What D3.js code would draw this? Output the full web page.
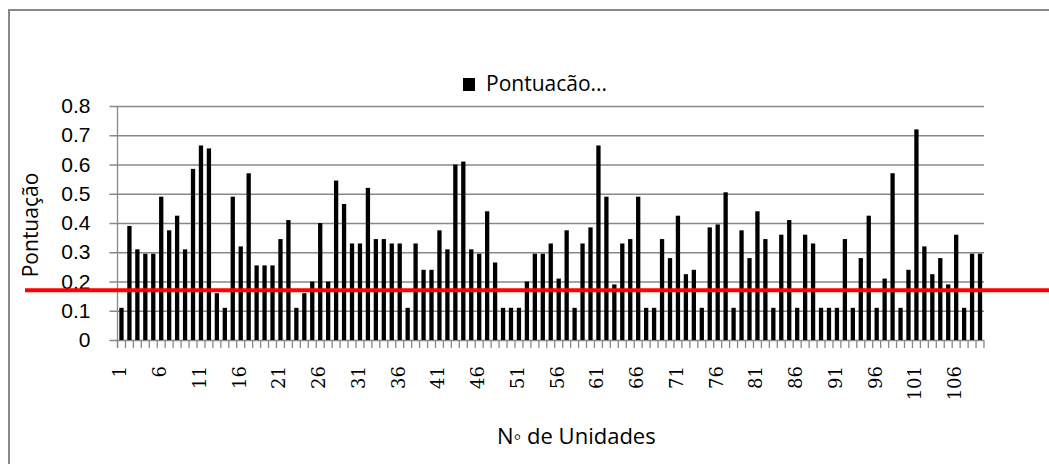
<!DOCTYPE html>
<html>
<head>
<meta charset="utf-8">
<script src="https://cdn.jsdelivr.net/npm/d3@7"></script>
<style>
  body { margin: 0; background: #fff; }
  svg { display: block; }
</style>
</head>
<body>
<div id="vis"></div>
<script>
// unidades 1..109
var units = d3.range(1, 110);
var scores = [
  0.11, 0.39, 0.31, 0.295, 0.295, 0.49, 0.375, 0.425, 0.31, 0.585,
  0.665, 0.655, 0.16, 0.11, 0.49, 0.32, 0.57, 0.255, 0.255, 0.255,
  0.345, 0.41, 0.11, 0.16, 0.2, 0.4, 0.2, 0.545, 0.465, 0.33,
  0.33, 0.52, 0.345, 0.345, 0.33, 0.33, 0.11, 0.33, 0.24, 0.24,
  0.375, 0.31, 0.6, 0.61, 0.31, 0.295, 0.44, 0.265, 0.11, 0.11,
  0.11, 0.2, 0.295, 0.295, 0.33, 0.21, 0.375, 0.11, 0.33, 0.385,
  0.665, 0.49, 0.19, 0.33, 0.345, 0.49, 0.11, 0.11, 0.345, 0.28,
  0.425, 0.225, 0.24, 0.11, 0.385, 0.395, 0.505, 0.11, 0.375, 0.28,
  0.44, 0.345, 0.11, 0.36, 0.41, 0.11, 0.36, 0.33, 0.11, 0.11,
  0.11, 0.345, 0.11, 0.28, 0.425, 0.11, 0.21, 0.57, 0.11, 0.24,
  0.72, 0.32, 0.225, 0.28, 0.19, 0.36, 0.11, 0.295, 0.295
];
var xTickLabels = [1, 6, 11, 16, 21, 26, 31, 36, 41, 46, 51, 56, 61, 66, 71, 76, 81, 86, 91, 96, 101, 106];
var yTicks = [0, 0.1, 0.2, 0.3, 0.4, 0.5, 0.6, 0.7, 0.8];
var cutoff = [0.17];

(function() {
  var W = 1049, H = 464;
  var left = 117.5, right = 984, top = 106, bottom = 340;
  var grid = '#888888';

  var svg = d3.select('#vis').append('svg').attr('width', W).attr('height', H);

  // moldura do gráfico (cortada à direita e em baixo)
  svg.append('rect').attr('x', 9).attr('y', 10).attr('width', 1100).attr('height', 500)
    .attr('fill', 'none').attr('stroke', grid).attr('stroke-width', 2);

  var x = d3.scaleBand().domain(units).range([left, right]).paddingInner(0.46).paddingOuter(0.23);
  var y = d3.scaleLinear().domain([0, 0.8]).range([bottom, top]);

  // grelha + eixo y
  var yAxis = d3.axisLeft(y).tickValues(yTicks).tickSize(-(right - left)).tickFormat(d3.format('.1~f'));
  var gy = svg.append('g').attr('transform', 'translate(' + left + ',0)').call(yAxis);
  gy.select('.domain').remove();
  gy.selectAll('.tick line').attr('stroke', grid).attr('stroke-width', 1.3).attr('x1', -8);
  gy.selectAll('.tick text').attr('x', -27).attr('fill', '#000')
    .style('font-family', '"Liberation Sans", Arial, sans-serif').style('font-size', '21px');
  svg.append('line').attr('x1', left).attr('x2', left).attr('y1', top).attr('y2', bottom + 8)
    .attr('stroke', grid).attr('stroke-width', 1.3);

  // eixo x: marcas entre categorias
  var step = x.step();
  svg.append('g').selectAll('line').data(d3.range(units.length + 1)).enter().append('line')
    .attr('x1', function(i) { return left + i * step; })
    .attr('x2', function(i) { return left + i * step; })
    .attr('y1', bottom).attr('y2', bottom + 8)
    .attr('stroke', grid).attr('stroke-width', 1.3);

  svg.append('g').selectAll('text').data(xTickLabels).enter().append('text')
    .attr('transform', function(d) {
      return 'translate(' + (x(d) + x.bandwidth() / 2 + 5) + ',' + 366 + ') rotate(-90)';
    })
    .attr('text-anchor', 'end')
    .style('font-family', '"DejaVu Serif", "Liberation Serif", serif').style('font-size', '18px')
    .text(function(d) { return d; });

  // barras
  svg.append('g').selectAll('rect').data(scores).enter().append('rect')
    .attr('x', function(d, i) { return x(units[i]); })
    .attr('width', x.bandwidth())
    .attr('y', function(d) { return y(d); })
    .attr('height', function(d) { return y(0) - y(d); })
    .attr('fill', '#000');

  // linha de corte
  svg.selectAll('line.cut').data(cutoff).enter().append('line').attr('class', 'cut')
    .attr('x1', 25).attr('x2', W)
    .attr('y1', function(d) { return y(d); }).attr('y2', function(d) { return y(d); })
    .attr('stroke', '#ff0000').attr('stroke-width', 4);

  // legenda
  svg.append('rect').attr('x', 463).attr('y', 78).attr('width', 12).attr('height', 13).attr('fill', '#000');
  svg.append('text').attr('x', 486).attr('y', 91)
    .style('font-family', '"Open Sans", "Liberation Sans", sans-serif').style('font-size', '21px')
    .text('Pontuacão...');

  // títulos dos eixos
  svg.append('text').attr('transform', 'translate(38,225) rotate(-90)').attr('text-anchor', 'middle')
    .style('font-family', '"Open Sans", "Liberation Sans", sans-serif').style('font-size', '21px')
    .text('Pontuação');
  svg.append('text').attr('x', 497).attr('y', 444)
    .style('font-family', '"Open Sans", "Liberation Sans", sans-serif').style('font-size', '22px')
    .text('N◦ de Unidades');
}).call(this);
</script>
</body>
</html>
